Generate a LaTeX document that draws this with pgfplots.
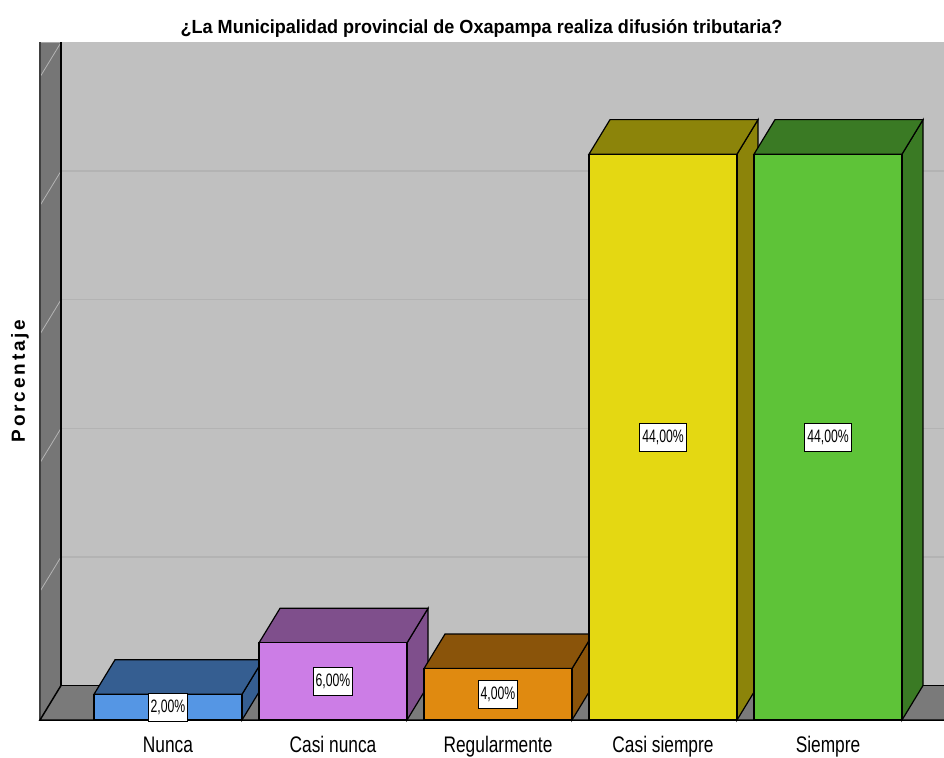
\documentclass[border=0pt]{standalone}
\usepackage{pgfplots}
\usepackage{pgfplotstable}
\pgfplotsset{compat=1.18}
\usepackage{fontspec}
\setmainfont{Liberation Sans}
\newfontfamily\titlefont[FakeStretch=0.95]{Liberation Sans}
\newfontfamily\tickfont[FakeStretch=0.77]{Liberation Sans}
\newfontfamily\valfont[FakeStretch=0.68]{Liberation Sans}
\newfontfamily\ylabfont[LetterSpace=15]{Liberation Sans}
\definecolor{wallc}{HTML}{C0C0C0}
\definecolor{gridc}{HTML}{B3B3B3}
\definecolor{floorc}{HTML}{7A7A7A}
\definecolor{lwallc}{HTML}{767676}
\definecolor{diagc}{HTML}{B4B4B4}
\definecolor{aF}{HTML}{5596E4}\definecolor{aD}{HTML}{355E91}
\definecolor{bF}{HTML}{CC7DE6}\definecolor{bD}{HTML}{7F4F8C}
\definecolor{cF}{HTML}{E08A10}\definecolor{cD}{HTML}{8A540A}
\definecolor{dF}{HTML}{E4D812}\definecolor{dD}{HTML}{8C840A}
\definecolor{eF}{HTML}{5EC338}\definecolor{eD}{HTML}{3A7A24}
\pgfplotstableread{
x v lab
0 2 2,00\%
1 6 6,00\%
2 4 4,00\%
3 44 44,00\%
4 44 44,00\%
}\datatab
\begin{document}
\begin{tikzpicture}
\path[use as bounding box] (-40pt,-37pt) rectangle (904pt,720pt);
\begin{axis}[at={(0,0)},anchor=south west,scale only axis,
  width=904pt,height=677.5pt,
  xmin=-0.7758,xmax=4.7030,ymin=0,ymax=52.683,clip=false,
  axis line style={draw=none},major tick length=0pt,ytick=\empty,
  xtick={0,1,2,3,4},
  xticklabels={Nunca,Casi nunca,Regularmente,Casi siempre,Siempre},
  xticklabel style={font={\tickfont\fontsize{22.5pt}{24pt}\selectfont},anchor=base,yshift=-32pt},
  edge/.style={draw=black,line width=1.2pt},
]
% back wall
\addplot[fill=wallc,draw=none] coordinates {(-0.6485,2.683)(4.7030,2.683)(4.7030,52.683)(-0.6485,52.683)} -- cycle;
\addplot[gridc,line width=1.5pt] coordinates {(-0.6485,12.683)(4.7030,12.683)};
\addplot[gridc,line width=1.5pt] coordinates {(-0.6485,22.683)(4.7030,22.683)};
\addplot[gridc,line width=1.5pt] coordinates {(-0.6485,32.683)(4.7030,32.683)};
\addplot[gridc,line width=1.5pt] coordinates {(-0.6485,42.683)(4.7030,42.683)};
% left wall
\addplot[fill=lwallc,draw=none] coordinates {(-0.7758,0)(-0.6485,2.683)(-0.6485,52.683)(-0.7758,52.683)} -- cycle;
\addplot[diagc,line width=0.8pt] coordinates {(-0.7758,10)(-0.6485,12.683)};
\addplot[diagc,line width=0.8pt] coordinates {(-0.7758,20)(-0.6485,22.683)};
\addplot[diagc,line width=0.8pt] coordinates {(-0.7758,30)(-0.6485,32.683)};
\addplot[diagc,line width=0.8pt] coordinates {(-0.7758,40)(-0.6485,42.683)};
\addplot[diagc,line width=0.8pt] coordinates {(-0.7758,50)(-0.6485,52.683)};
% floor
\addplot[fill=floorc,draw=none] coordinates {(-0.7758,0)(-0.6485,2.683)(4.7030,2.683)(4.7030,0)} -- cycle;
\addplot[black!75,line width=1.2pt] coordinates {(-0.7758,0)(-0.7758,52.683)};
\addplot[black,line width=1.5pt] coordinates {(-0.6485,52.683)(-0.6485,2.683)(4.7030,2.683)};
\addplot[black,line width=1.5pt] coordinates {(-0.6485,2.683)(-0.7758,0)(4.7030,0)};
% bar 0 Nunca
\addplot[edge,fill=aD] coordinates {(0.4485,0)(0.5758,2.683)(0.5758,4.683)(0.4485,2)} -- cycle;
\addplot[edge,fill=aD] coordinates {(-0.4485,2)(-0.3212,4.683)(0.5758,4.683)(0.4485,2)} -- cycle;
\addplot[ybar,bar width=0.897,bar shift=0pt,edge,fill=aF] coordinates {(0,2)};
% bar 1 Casi nunca
\addplot[edge,fill=bD] coordinates {(1.4485,0)(1.5758,2.683)(1.5758,8.683)(1.4485,6)} -- cycle;
\addplot[edge,fill=bD] coordinates {(0.5515,6)(0.6788,8.683)(1.5758,8.683)(1.4485,6)} -- cycle;
\addplot[ybar,bar width=0.897,bar shift=0pt,edge,fill=bF] coordinates {(1,6)};
% bar 2 Regularmente
\addplot[edge,fill=cD] coordinates {(2.4485,0)(2.5758,2.683)(2.5758,6.683)(2.4485,4)} -- cycle;
\addplot[edge,fill=cD] coordinates {(1.5515,4)(1.6788,6.683)(2.5758,6.683)(2.4485,4)} -- cycle;
\addplot[ybar,bar width=0.897,bar shift=0pt,edge,fill=cF] coordinates {(2,4)};
% bar 3 Casi siempre
\addplot[edge,fill=dD] coordinates {(3.4485,0)(3.5758,2.683)(3.5758,46.683)(3.4485,44)} -- cycle;
\addplot[edge,fill=dD] coordinates {(2.5515,44)(2.6788,46.683)(3.5758,46.683)(3.4485,44)} -- cycle;
\addplot[ybar,bar width=0.897,bar shift=0pt,edge,fill=dF] coordinates {(3,44)};
% bar 4 Siempre
\addplot[edge,fill=eD] coordinates {(4.4485,0)(4.5758,2.683)(4.5758,46.683)(4.4485,44)} -- cycle;
\addplot[edge,fill=eD] coordinates {(3.5515,44)(3.6788,46.683)(4.5758,46.683)(4.4485,44)} -- cycle;
\addplot[ybar,bar width=0.897,bar shift=0pt,edge,fill=eF] coordinates {(4,44)};
% value labels
\addplot[draw=none,mark=none,nodes near coords,point meta=explicit symbolic,
  every node near coord/.append style={anchor=center,fill=white,draw=black,line width=0.8pt,
  inner xsep=2.5pt,inner ysep=6.5pt,font={\valfont\fontsize{18pt}{20pt}\selectfont}}]
  table[x=x,y expr=\thisrow{v}/2,meta=lab] {\datatab};
\node[font={\titlefont\bfseries\fontsize{19pt}{22pt}\selectfont},anchor=base,yshift=8.5pt]
  at (axis description cs:0.4884,1) {¿La Municipalidad provincial de Oxapampa realiza difusión tributaria?};
\node[font={\ylabfont\bfseries\fontsize{19pt}{20pt}\selectfont},rotate=90,anchor=center]
  at (axis description cs:-0.0221,0.5004) {Porcentaje};
\end{axis}
\end{tikzpicture}
\end{document}
